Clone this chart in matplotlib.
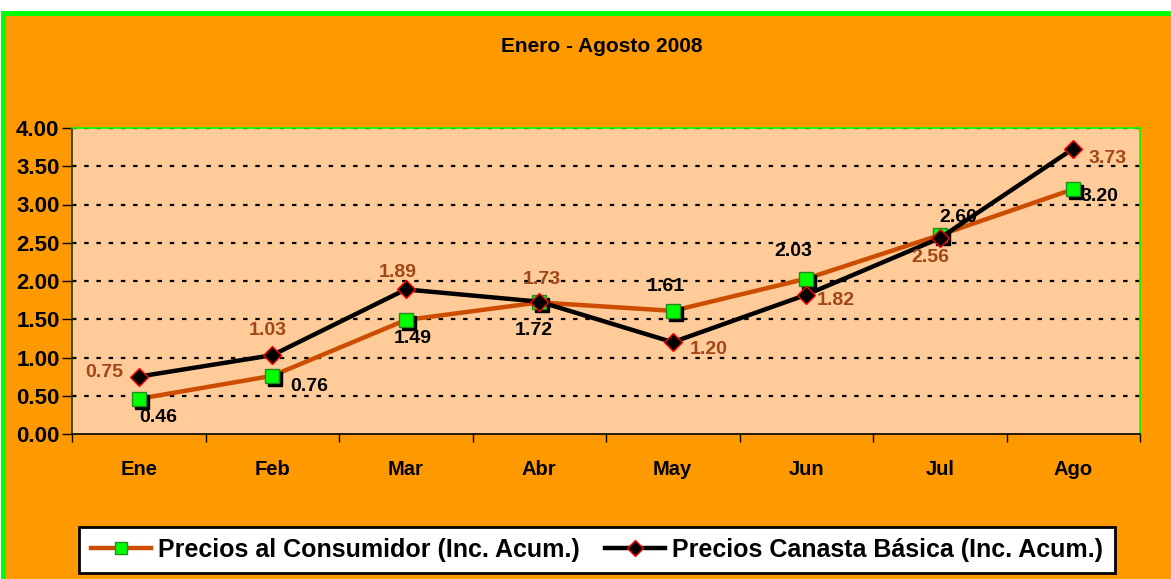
import matplotlib
matplotlib.use("Agg")
import matplotlib.pyplot as plt
from matplotlib.patches import Rectangle
from matplotlib.transforms import ScaledTranslation
from matplotlib.lines import Line2D

months = ["Ene", "Feb", "Mar", "Abr", "May", "Jun", "Jul", "Ago"]
consumidor = [0.46, 0.76, 1.49, 1.72, 1.61, 2.03, 2.60, 3.20]
canasta = [0.75, 1.03, 1.89, 1.73, 1.20, 1.82, 2.56, 3.73]
yticks = [0.0, 0.5, 1.0, 1.5, 2.0, 2.5, 3.0, 3.5, 4.0]
title = "Enero - Agosto 2008"
label_cons = "Precios al Consumidor (Inc. Acum.)"
label_can = "Precios Canasta Básica (Inc. Acum.)"

# label offsets (pixels) relative to the point
off_cons = [(20, -19), (37, -11), (7, -18), (-6, -28), (-7, 24), (-13, 27), (19, 18), (26, -7)]
off_can = [(-34, 4), (-4, 25), (-8, 17), (3, 22), (36, -7), (29, -6), (-9, -19), (34, -10)]

plt.rcParams['font.family'] = ['Liberation Sans', 'DejaVu Sans']
W, H = 1171, 579
fig = plt.figure(figsize=(W / 100, H / 100), dpi=100, facecolor="white")
fig.patches.append(Rectangle((2.5 / W, -0.01), 1.05, 1 - 7.5 / H, transform=fig.transFigure,
                             facecolor="#FF9900", edgecolor="#00FF00", linewidth=3.6, zorder=-5))

ax = fig.add_axes([72 / W, 1 - 434 / H, (1140 - 72) / W, (434 - 128) / H])
ax.set_zorder(2)
ax.set_facecolor("#FFCC99")
x = list(range(len(months)))

ax.set_xlim(-0.5, len(months) - 0.5)
ax.set_ylim(0, 4)
ax.set_yticks(yticks)
ax.set_yticklabels([f"{v:.2f}" for v in yticks], fontsize=16, fontweight="bold")
ax.set_xticks(x)
ax.set_xticklabels(months, fontsize=14.5, fontweight="bold")
ax.set_xticks([i - 0.5 for i in range(len(months) + 1)], minor=True)
ax.tick_params(axis="x", which="major", length=0, pad=19)
ax.tick_params(axis="x", which="minor", length=6, width=1, direction="out")
ax.tick_params(axis="y", length=7, width=1, direction="out", pad=2)
for v in yticks[1:]:
    ax.axhline(v, color="black", linestyle=(0, (2, 3.5)), linewidth=1.6, zorder=1)
ax.spines["top"].set_color("#00FF00")
ax.spines["right"].set_color("#00FF00")
ax.spines["left"].set_color("#1a3a00")
ax.spines["bottom"].set_color("black")
for s in ax.spines.values():
    s.set_linewidth(1.2)

orange = "#CC4C00"
brown = "#A0461A"
ax.plot(x, consumidor, color=orange, linewidth=3.2, zorder=3)
shadow = ax.transData + ScaledTranslation(3 / 100, -3 / 100, fig.dpi_scale_trans)
ax.plot(x, consumidor, linestyle="none", marker="s", markersize=9.5, color="black",
        transform=shadow, zorder=3.5)
ax.plot(x, consumidor, linestyle="none", marker="s", markersize=9.5, markerfacecolor="#00FF00",
        markeredgecolor="#228B22", markeredgewidth=1, zorder=4)
ax.plot(x, canasta, color="black", linewidth=3.2, marker="D", markersize=9,
        markerfacecolor="black", markeredgecolor="red", markeredgewidth=1, zorder=5)

for i in x:
    ax.annotate(f"{consumidor[i]:.2f}", (i, consumidor[i]), xytext=off_cons[i],
                textcoords="offset pixels", ha="center", va="center",
                fontsize=14, fontweight="bold", color="black", zorder=6)
    ax.annotate(f"{canasta[i]:.2f}", (i, canasta[i]), xytext=off_can[i],
                textcoords="offset pixels", ha="center", va="center",
                fontsize=14, fontweight="bold", color=brown, zorder=6)

fig.text(602 / W, 1 - 47 / H, title, ha="center", va="center", fontsize=15, fontweight="bold")

h1 = Line2D([], [], color=orange, linewidth=3.2, marker="s", markersize=8,
            markerfacecolor="#00FF00", markeredgecolor="#228B22")
h2 = Line2D([], [], color="black", linewidth=3.2, marker="D", markersize=8,
            markerfacecolor="black", markeredgecolor="red")
leg = fig.legend([h1, h2], [label_cons, label_can], loc="center",
                 bbox_to_anchor=(597 / W, 1 - 550 / H), ncol=2, frameon=True,
                 fancybox=False, edgecolor="black", facecolor="white", framealpha=1,
                 prop={"weight": "bold", "size": 18}, handlelength=2.4, handletextpad=0.3,
                 columnspacing=1.0, borderpad=0.45)
leg.get_frame().set_linewidth(2)

fig.savefig("out.png", dpi=100, facecolor="white")
